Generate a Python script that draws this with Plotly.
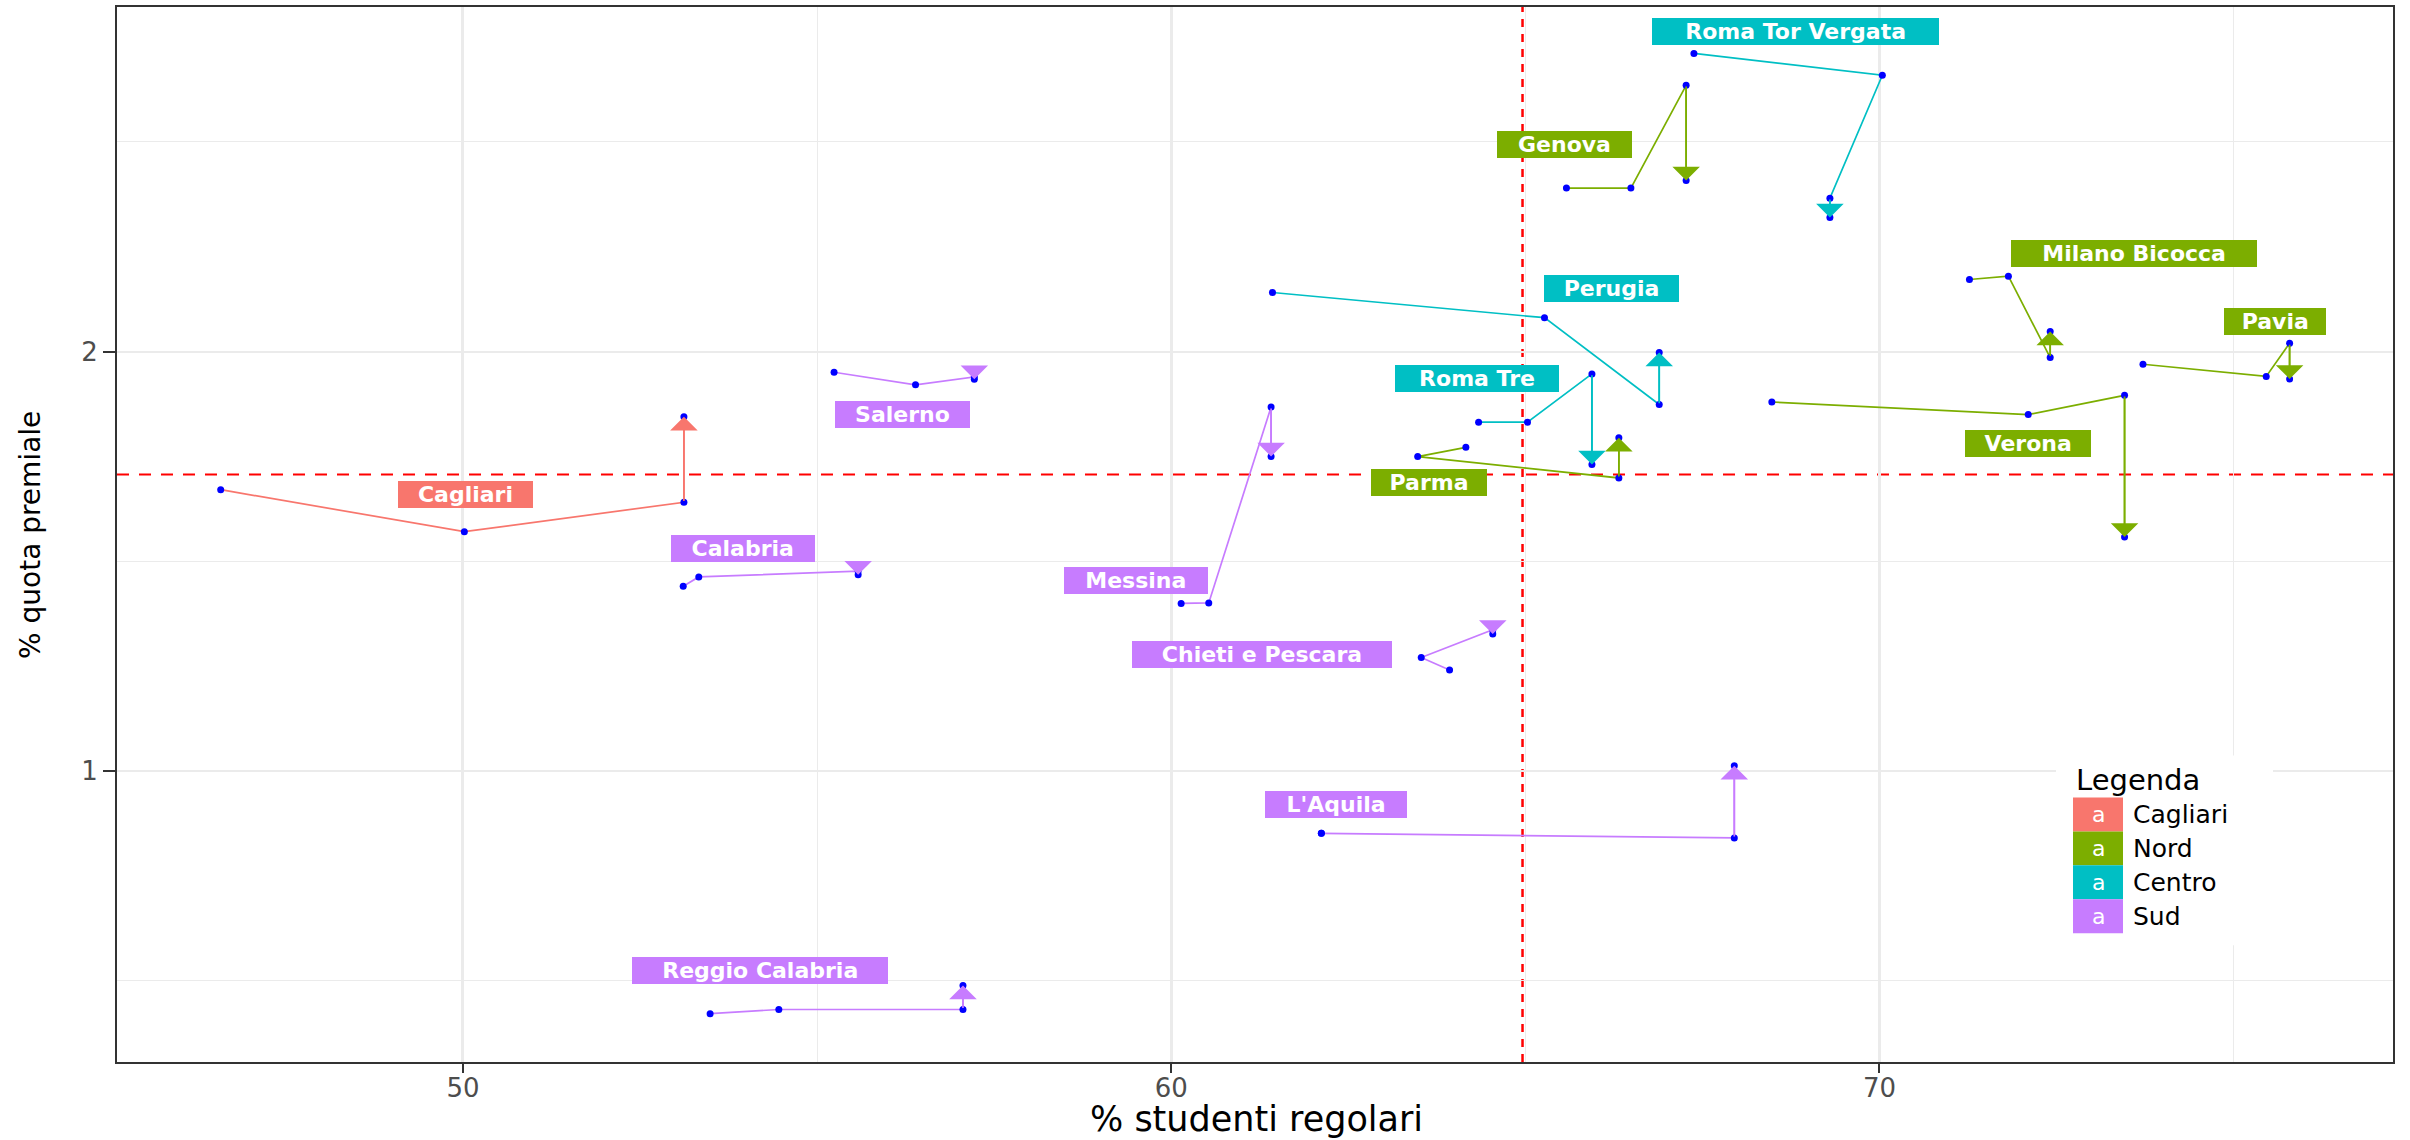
import plotly.graph_objects as go

# ---------------- data ----------------
universita = ["Cagliari", "Genova", "Milano Bicocca", "Pavia", "Verona", "Parma",
              "Roma Tor Vergata", "Perugia", "Roma Tre",
              "Salerno", "Messina", "Chieti e Pescara", "L'Aquila", "Calabria", "Reggio Calabria"]
area = ["Cagliari", "Nord", "Nord", "Nord", "Nord", "Nord",
        "Centro", "Centro", "Centro",
        "Sud", "Sud", "Sud", "Sud", "Sud", "Sud"]

# % studenti regolari (four successive observations)
x_t1 = [46.58, 65.58, 71.27, 73.72, 68.48, 64.16, 67.38, 61.43, 64.34, 55.24, 60.14, 63.93, 62.12, 53.11, 53.49]
x_t2 = [50.02, 66.49, 71.82, 75.46, 72.10, 63.48, 70.04, 65.27, 65.03, 56.39, 60.53, 63.53, 62.12, 53.33, 54.46]
x_t3 = [53.12, 67.27, 72.41, 75.79, 73.46, 66.32, 69.30, 66.89, 65.94, 57.22, 61.41, 64.54, 67.95, 55.58, 57.06]
x_t4 = [53.12, 67.27, 72.41, 75.79, 73.46, 66.32, 69.30, 66.89, 65.94, 57.22, 61.41, 64.54, 67.95, 55.58, 57.06]
# % quota premiale
y_t1 = [1.671, 2.390, 2.172, 1.970, 1.880, 1.772, 2.711, 2.141, 1.832, 1.951, 1.400, 1.241, 0.852, 1.441, 0.422]
y_t2 = [1.571, 2.390, 2.180, 1.941, 1.850, 1.750, 2.659, 2.081, 1.832, 1.921, 1.401, 1.271, 0.852, 1.463, 0.432]
y_t3 = [1.641, 2.635, 1.986, 2.020, 1.896, 1.699, 2.366, 1.874, 1.947, 1.940, 1.868, 1.337, 0.841, 1.477, 0.432]
y_t4 = [1.845, 2.408, 2.048, 1.935, 1.558, 1.795, 2.320, 1.998, 1.731, 1.934, 1.750, 1.327, 1.013, 1.4685, 0.489]

# label anchor positions (data units)
label_x = [50.03, 65.55, 73.59, 75.58, 72.09, 63.64, 68.81, 66.22, 64.32, 56.21, 59.50, 61.28, 62.32, 53.95, 54.20]
label_y = [1.660, 2.495, 2.235, 2.073, 1.780, 1.687, 2.764, 2.150, 1.935, 1.850, 1.455, 1.277, 0.921, 1.531, 0.526]

# reference lines
ref_x = 64.96
ref_y = 1.707

x_ticks = [50, 60, 70]
x_minor = [55, 65, 75]
y_ticks = [1, 2]
y_minor = [0.5, 1.5, 2.5]

legend_items = ["Cagliari", "Nord", "Centro", "Sud"]
area_colors = {"Cagliari": "#F8766D", "Nord": "#7CAE00", "Centro": "#00BFC4", "Sud": "#C77CFF"}

# ---------------- layout geometry ----------------
W, H = 2410, 1140
ML, MR, MT, MB = 117, 17, 5, 78
PW, PH = W - ML - MR, H - MT - MB
X_RANGE = [45.116, 77.25]
Y_RANGE = [0.3068, 2.8216]
FONT = "DejaVu Sans"
Y_PX_PER_UNIT = PH / (Y_RANGE[1] - Y_RANGE[0])


def paper(px, py):
    return (px - ML) / PW, (H - MB - py) / PH


# approximate bold Arial advance widths, used to size the label boxes
CHAR_W = {' ': 278, "'": 238, 'A': 722, 'B': 722, 'C': 722, 'G': 778, 'L': 611, 'M': 833,
          'P': 667, 'R': 722, 'S': 667, 'T': 611, 'V': 667, 'a': 556, 'b': 611, 'c': 556,
          'e': 556, 'g': 611, 'h': 611, 'i': 278, 'l': 278, 'm': 889, 'n': 611, 'o': 611,
          'q': 611, 'r': 389, 's': 556, 't': 333, 'u': 611, 'v': 556}


def box_width(txt):
    return sum(CHAR_W.get(ch, 600) for ch in txt) / 1000 * 30.8 + 22


fig = go.Figure()

# paths
for i, name in enumerate(universita):
    c = area_colors[area[i]]
    fig.add_trace(go.Scatter(
        x=[x_t1[i], x_t2[i], x_t3[i], x_t4[i]],
        y=[y_t1[i], y_t2[i], y_t3[i], y_t4[i]],
        mode="lines",
        line=dict(color=c, width=1.7),
        hoverinfo="skip", showlegend=False))

# blue points at every observation
all_x = x_t1 + x_t2 + x_t3 + x_t4
all_y = y_t1 + y_t2 + y_t3 + y_t4
fig.add_trace(go.Scatter(x=all_x, y=all_y, mode="markers",
                         marker=dict(color="#0000FF", size=7, line=dict(width=0)),
                         hoverinfo="skip", showlegend=False))

shapes = [
    dict(type="line", xref="x", yref="paper", x0=ref_x, x1=ref_x, y0=0, y1=1,
         line=dict(color="#FF0000", width=2.5, dash="8px,7px"), layer="between"),
    dict(type="line", xref="paper", yref="y", x0=0, x1=1, y0=ref_y, y1=ref_y,
         line=dict(color="#FF0000", width=2, dash="12px,10px"), layer="between"),
]

annotations = []
# arrowheads on the last segment
for i, name in enumerate(universita):
    c = area_colors[area[i]]
    dy = y_t4[i] - y_t3[i]
    seg = max(abs(dy) * Y_PX_PER_UNIT, 14)
    annotations.append(dict(
        x=x_t4[i], y=y_t4[i], xref="x", yref="y", ax=0, ay=seg if dy > 0 else -seg,
        axref="pixel", ayref="pixel", text="", showarrow=True,
        arrowhead=1, arrowsize=2.7, arrowwidth=1.7, arrowcolor=c, standoff=0))

# labels
for i, name in enumerate(universita):
    c = area_colors[area[i]]
    annotations.append(dict(
        x=label_x[i], y=label_y[i], xref="x", yref="y", text="<b>%s</b>" % name,
        showarrow=False, xanchor="center", yanchor="middle",
        font=dict(family=FONT, size=22, color="white"),
        bgcolor=c, bordercolor=c, borderwidth=1, borderpad=0,
        width=box_width(name) - 2))

# manual legend (ggplot-like)
lx0, lx1, ly0, ly1 = 2056, 2273, 755, 945
p0 = paper(lx0, ly0)
p1 = paper(lx1, ly1)
shapes.append(dict(type="rect", xref="paper", yref="paper", x0=p0[0], x1=p1[0], y0=p1[1], y1=p0[1],
                   fillcolor="white", line=dict(width=0), layer="above"))
tx, ty = paper(2074, 779)
annotations.append(dict(x=tx, y=ty, xref="paper", yref="paper", text="Legenda", showarrow=False,
                        xanchor="left", yanchor="middle", font=dict(family=FONT, size=29, color="black")))
key_top = 797
key_h = 34
for k, item in enumerate(legend_items):
    ya = key_top + k * key_h
    q0 = paper(2073, ya)
    q1 = paper(2123, ya + key_h)
    shapes.append(dict(type="rect", xref="paper", yref="paper", x0=q0[0], x1=q1[0], y0=q1[1], y1=q0[1],
                       fillcolor=area_colors[item], line=dict(width=0), layer="above"))
    cx, cy = paper(2098, ya + key_h / 2)
    annotations.append(dict(x=cx, y=cy, xref="paper", yref="paper", text="a", showarrow=False,
                            xanchor="center", yanchor="middle",
                            font=dict(family=FONT, size=22, color="white")))
    lx, lyy = paper(2131, ya + key_h / 2)
    annotations.append(dict(x=lx, y=lyy, xref="paper", yref="paper", text=item, showarrow=False,
                            xanchor="left", yanchor="middle",
                            font=dict(family=FONT, size=25, color="black")))

# axis titles
xtx, xty = paper(1256, 1119)
annotations.append(dict(x=xtx, y=xty, xref="paper", yref="paper", text="% studenti regolari",
                        showarrow=False, xanchor="center", yanchor="middle",
                        font=dict(family=FONT, size=35, color="black")))
ytx, yty = paper(31, 534)
annotations.append(dict(x=ytx, y=yty, xref="paper", yref="paper", text="% quota premiale",
                        showarrow=False, xanchor="center", yanchor="middle", textangle=-90,
                        font=dict(family=FONT, size=28, color="black")))

axis_common = dict(showline=True, linecolor="#333333", linewidth=2, mirror=True,
                   zeroline=False, ticks="outside", tickwidth=2, tickcolor="#333333",
                   gridcolor="#EBEBEB", showgrid=True,
                   tickfont=dict(family=FONT, size=26, color="#4D4D4D"))

fig.update_layout(
    width=W, height=H, autosize=False,
    margin=dict(l=ML, r=MR, t=MT, b=MB, pad=0),
    paper_bgcolor="white", plot_bgcolor="white",
    showlegend=False,
    xaxis=dict(range=X_RANGE, tickmode="array", tickvals=x_ticks, ticktext=[str(v) for v in x_ticks],
               ticklen=9, gridwidth=2.5, ticklabelstandoff=-7,
               minor=dict(tickvals=x_minor, showgrid=True, gridcolor="#EBEBEB", gridwidth=1.3),
               **axis_common),
    yaxis=dict(range=Y_RANGE, tickmode="array", tickvals=y_ticks, ticktext=[str(v) for v in y_ticks],
               ticklen=12, gridwidth=2,
               minor=dict(tickvals=y_minor, showgrid=True, gridcolor="#EBEBEB", gridwidth=1),
               **axis_common),
    shapes=shapes,
    annotations=annotations,
)

fig.write_html("out.html", config={"displayModeBar": False},
               post_script="document.body.style.margin='0';document.body.style.overflow='hidden';")
